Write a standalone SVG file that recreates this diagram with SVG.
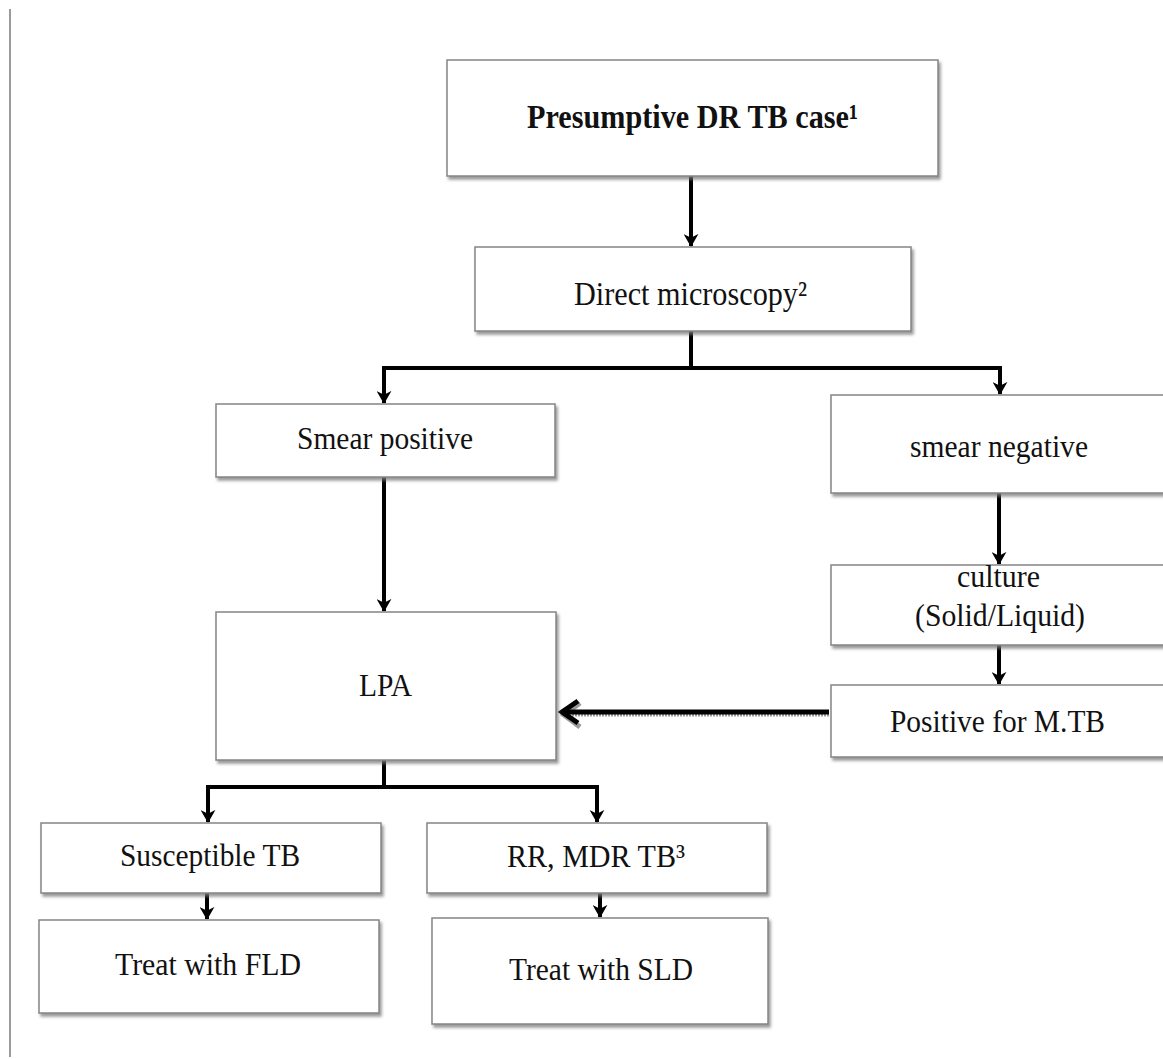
<svg xmlns="http://www.w3.org/2000/svg" width="1163" height="1059" viewBox="0 0 1163 1059">
<style>
.box{fill:#fff;stroke:#858585;stroke-width:1.5;filter:url(#sh)}
.t{font-family:"Liberation Serif","Times New Roman",serif;font-size:32px;fill:#111;text-anchor:middle}
.b{font-weight:bold;font-size:33px}
.c{fill:none;stroke:#000;stroke-width:4}
</style>
<defs>
<filter id="sh" x="-5%" y="-10%" width="115%" height="130%">
<feDropShadow dx="2" dy="3" stdDeviation="1.8" flood-color="#777" flood-opacity="0.75"/>
</filter>
<marker id="ah" viewBox="0 0 14 16" refX="13" refY="8" markerWidth="13" markerHeight="15" orient="auto" markerUnits="userSpaceOnUse">
<path d="M0,0 L14,8 L0,16 L4,8 Z" fill="#000"/>
</marker>
</defs>
<rect width="1163" height="1059" fill="#fff"/>
<line x1="10" y1="9" x2="10" y2="1057" stroke="#7a7a7a" stroke-width="1.5"/>
<g id="connectors">
<line class="c" x1="691" y1="176" x2="691" y2="246" marker-end="url(#ah)"/>
<polyline class="c" points="691,331 691,368 384,368 384,403" marker-end="url(#ah)"/>
<polyline class="c" points="691,368 1000,368 1000,394" marker-end="url(#ah)"/>
<line class="c" x1="384" y1="477" x2="384" y2="611" marker-end="url(#ah)"/>
<line class="c" x1="999" y1="493" x2="999" y2="564" marker-end="url(#ah)"/>
<line class="c" x1="999" y1="645" x2="999" y2="684" marker-end="url(#ah)"/>
<g id="lpa-arrow">
<line x1="829" y1="714" x2="566" y2="714" stroke="#9a9a9a" stroke-width="5" stroke-dasharray="2 1"/>
<polyline points="580,703 564,715 580,727" fill="none" stroke="#9a9a9a" stroke-width="5"/>
<line x1="829" y1="712" x2="566" y2="712" stroke="#000" stroke-width="5"/>
<polyline points="578,701 562,712 578,723" fill="none" stroke="#000" stroke-width="5"/>
</g>
<polyline class="c" points="384,760 384,787 208,787 208,822" marker-end="url(#ah)"/>
<polyline class="c" points="384,787 597,787 597,822" marker-end="url(#ah)"/>
<line class="c" x1="207" y1="893" x2="207" y2="919" marker-end="url(#ah)"/>
<line class="c" x1="600" y1="893" x2="600" y2="917" marker-end="url(#ah)"/>
</g>
<g id="n1"><rect class="box" x="447" y="60" width="491" height="116"/><text class="t b" x="692.5" y="128" textLength="331" lengthAdjust="spacingAndGlyphs">Presumptive DR TB case¹</text></g>
<g id="n2"><rect class="box" x="475" y="247" width="436" height="84"/><text class="t" x="690.5" y="305" style="font-size:34px" textLength="233" lengthAdjust="spacingAndGlyphs">Direct microscopy²</text></g>
<g id="n3"><rect class="box" x="216" y="404" width="339" height="73"/><text class="t" x="385" y="449" textLength="176" lengthAdjust="spacingAndGlyphs">Smear positive</text></g>
<g id="n4"><rect class="box" x="831" y="395" width="345" height="98"/><text class="t" x="999" y="457" textLength="178" lengthAdjust="spacingAndGlyphs">smear negative</text></g>
<g id="n5"><rect class="box" x="831" y="565" width="345" height="80"/><text class="t" x="998.5" y="587" textLength="83" lengthAdjust="spacingAndGlyphs">culture</text><text class="t" x="1000" y="626" textLength="170" lengthAdjust="spacingAndGlyphs">(Solid/Liquid)</text></g>
<g id="n6"><rect class="box" x="831" y="685" width="345" height="72"/><text class="t" x="997.5" y="732" textLength="215" lengthAdjust="spacingAndGlyphs">Positive  for M.TB</text></g>
<g id="n7"><rect class="box" x="216" y="612" width="340" height="148"/><text class="t" x="385.5" y="696" textLength="53" lengthAdjust="spacingAndGlyphs">LPA</text></g>
<g id="n8"><rect class="box" x="41" y="823" width="340" height="70"/><text class="t" x="210" y="866" textLength="180" lengthAdjust="spacingAndGlyphs">Susceptible TB</text></g>
<g id="n9"><rect class="box" x="427" y="823" width="340" height="70"/><text class="t" x="596" y="867" textLength="178" lengthAdjust="spacingAndGlyphs">RR, MDR TB³</text></g>
<g id="n10"><rect class="box" x="39" y="920" width="340" height="93"/><text class="t" x="208" y="975" textLength="186" lengthAdjust="spacingAndGlyphs">Treat with FLD</text></g>
<g id="n11"><rect class="box" x="432" y="918" width="336" height="106"/><text class="t" x="601" y="980" textLength="184" lengthAdjust="spacingAndGlyphs">Treat with SLD</text></g>
</svg>
